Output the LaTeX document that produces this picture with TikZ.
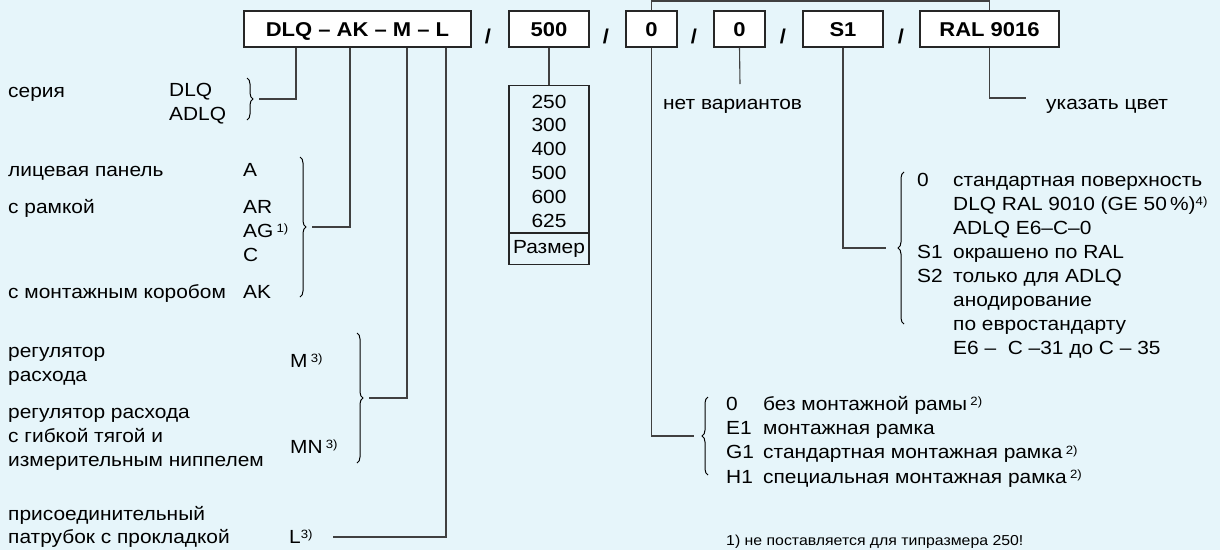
\documentclass[tikz,border=0pt]{standalone}
\usepackage{fontspec}
\setmainfont[FakeStretch=1.1]{Liberation Sans}
\usetikzlibrary{decorations.pathreplacing}
\definecolor{bg}{HTML}{E6F5FA}
\definecolor{ln}{HTML}{404040}
\newcommand\supr[1]{\raisebox{4.5pt}{\fontsize{12}{12}\selectfont #1}}
\begin{document}
\begin{tikzpicture}[x=1pt,y=-1pt,
  txt/.style={anchor=base west, inner sep=0pt, font=\fontsize{19}{24}\selectfont},
  num/.style={anchor=base, inner sep=0pt, font=\fontsize{19}{24}\selectfont},
  codebox/.style={draw=black!85, fill=white, line width=1.1pt, inner sep=0pt, minimum height=36pt, text height=14.3pt, text depth=0pt, font=\bfseries\fontsize{20}{22}\selectfont},
  slash/.style={anchor=base, inner sep=0pt, font=\bfseries\fontsize{20}{22}\selectfont},
  conn/.style={draw=ln, line width=1.1pt},
  brc/.style={draw=black, line width=1pt, decorate, decoration={brace, amplitude=6pt}},
  foot/.style={anchor=base west, inner sep=0pt, font=\fontsize{14.4}{16}\selectfont}
]
\fill[bg] (0,0) rectangle (1220,550);
\useasboundingbox (0,0) rectangle (1220,550);

% top row
\node[codebox, minimum width=227pt] (dlq) at (357.5,29) {DLQ – AK – M – L};
\node[codebox, minimum width=80pt] (sz) at (549,29) {500};
\node[codebox, minimum width=51pt] (za) at (651.5,29) {0};
\node[codebox, minimum width=51pt] (zb) at (739.5,29) {0};
\node[codebox, minimum width=80pt] (s1) at (843,29) {S1};
\node[codebox, minimum width=139pt] (ral) at (989.5,29) {RAL 9016};
\node[slash] (sl1) at (488,43) {/};
\node[slash] (sl2) at (606,43) {/};
\node[slash] (sl3) at (694,43) {/};
\node[slash] (sl4) at (783,43) {/};
\node[slash] (sl5) at (901,43) {/};

% left column
\node[txt] (seria) at (8,97) {серия};
\node[txt] (dlq1) at (169,96) {DLQ};
\node[txt] (dlq2) at (169,120) {ADLQ};
\node[txt] (lic) at (8,176) {лицевая панель};
\node[txt] (ka) at (243,176) {A};
\node[txt] (ram) at (8,213) {с рамкой};
\node[txt] (kar) at (243,213) {AR};
\node[txt] (kag) at (243,237) {AG\,\supr{1)}};
\node[txt] (kc) at (243,261) {C};
\node[txt] (mont) at (8,298) {с монтажным коробом};
\node[txt] (kak) at (243,298) {AK};
\node[txt] (reg1) at (8,357) {регулятор};
\node[txt] (reg2) at (8,381) {расхода};
\node[txt] (km) at (290,367) {M\,\supr{3)}};
\node[txt] (rg1) at (8,418) {регулятор расхода};
\node[txt] (rg2) at (8,442) {с гибкой тягой и};
\node[txt] (rg3) at (8,466) {измерительным ниппелем};
\node[txt] (kmn) at (290,453) {MN\,\supr{3)}};
\node[txt] (pr1) at (8,520) {присоединительный};
\node[txt] (pr2) at (8,543) {патрубок с прокладкой};
\node[txt] (kl) at (289,543) {L\supr{3)}};

% size box
\node[draw=black!85, line width=1.1pt, minimum width=80pt, minimum height=179pt, inner sep=0pt, anchor=north] (size) at (549,85) {};
\draw[black!85, line width=2pt] (size.west |- 0,233) -- (size.east |- 0,233);
\node[num] (n1) at (549,108) {250};
\node[num] (n2) at (549,131.8) {300};
\node[num] (n3) at (549,155.6) {400};
\node[num] (n4) at (549,179.4) {500};
\node[num] (n5) at (549,203.2) {600};
\node[num] (n6) at (549,227) {625};
\node[num] (nr) at (549,253) {Размер};

% right texts
\node[txt] (net) at (663,109) {нет вариантов};
\node[txt] (cvet) at (1046,109) {указать цвет};

\node[txt] (q0) at (917,186) {0};
\node[txt] (t0) at (953,186) {стандартная поверхность};
\node[txt] (t0b) at (953,210) {DLQ RAL 9010 (GE 50\,\%)\supr{4)}};
\node[txt] (t0c) at (953,234) {ADLQ E6–C–0};
\node[txt] (qs1) at (917,258) {S1};
\node[txt] (ts1) at (953,258) {окрашено по RAL};
\node[txt] (qs2) at (917,282) {S2};
\node[txt] (ts2) at (953,282) {только для ADLQ};
\node[txt] (ts2b) at (953,306) {анодирование};
\node[txt] (ts2c) at (953,330) {по евростандарту};
\node[txt] (ts2d) at (953,354) {E6 –\ \ C –31 до C – 35};

\node[txt] (r0) at (726,410) {0};
\node[txt] (u0) at (763,410) {без монтажной рамы\,\supr{2)}};
\node[txt] (re1) at (726,434) {E1};
\node[txt] (ue1) at (763,434) {монтажная рамка};
\node[txt] (rg1x) at (726,458.5) {G1};
\node[txt] (ug1) at (763,458.5) {стандартная монтажная рамка\,\supr{2)}};
\node[txt] (rh1) at (726,483) {H1};
\node[txt] (uh1) at (763,483) {специальная монтажная рамка\,\supr{2)}};

\node[foot] (fn) at (726,545.5) {1) не поставляется для типразмера 250!};

% braces
\draw[brc] (247,78) -- (247,120);
\draw[brc] (300,157) -- (300,297);
\draw[brc] (357,333) -- (357,463);
\draw[brc] (708,475) -- (708,397);
\draw[brc] (904,324) -- (904,172);

% connector ends
\coordinate (e1) at (259,99);
\coordinate (e2) at (312,227);
\coordinate (e3) at (369,398);
\coordinate (e4) at (333,537);
\coordinate (e5) at (694,436);
\coordinate (e6) at (886,248);
\coordinate (e7) at (1026,98);
\coordinate (e8) at (740,84);
\coordinate (topy) at (0,1);

% connectors
\draw[conn] ([xshift=-61.5pt]dlq.south) |- (e1);
\draw[conn] ([xshift=-7.5pt]dlq.south) |- (e2);
\draw[conn] ([xshift=49.5pt]dlq.south) |- (e3);
\draw[conn] ([xshift=88.5pt]dlq.south) |- (e4);
\draw[conn] (sz.south) -- (size.north);
\draw[conn] (za.south) |- (e5);
\draw[conn] (zb.south) -- (e8);
\draw[conn] (s1.south) |- (e6);
\draw[conn] (ral.south) |- (e7);
\draw[conn] (za.north) |- (topy -| ral.north) -- (ral.north);
\end{tikzpicture}
\end{document}
